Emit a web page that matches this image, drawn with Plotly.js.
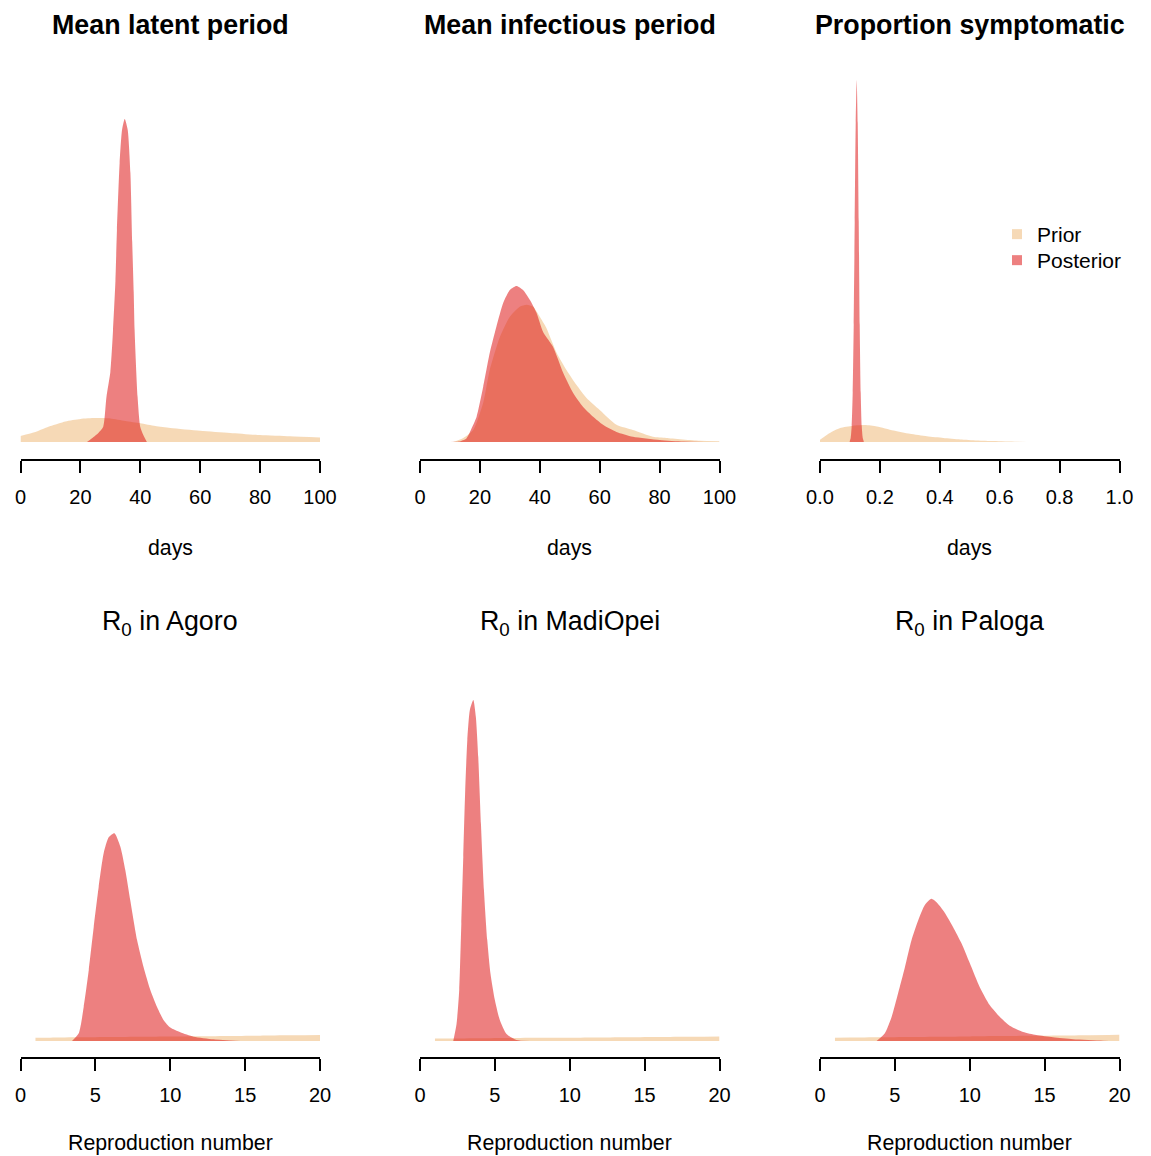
<!DOCTYPE html>
<html>
<head>
<meta charset="utf-8">
<script src="https://cdn.plot.ly/plotly-3.0.1.min.js"></script>
<style>
  html, body { margin: 0; padding: 0; background: #ffffff; }
  #chart { width: 1151px; height: 1156px; }
</style>
</head>
<body>
<div id="chart"></div>
<script>
// ---------- Data (densities) ----------
// Mean latent period (days)
const latentPriorX = [0, 5, 10, 15, 20, 25, 30, 35, 40, 45, 50, 60, 70, 80, 90, 100];
const latentPriorY = [0.0029, 0.0048, 0.0076, 0.0098, 0.0110, 0.0114, 0.0112, 0.0100, 0.0089, 0.0076, 0.0067, 0.0054, 0.0043, 0.0033, 0.0027, 0.0022];
const latentPostX = [22.2, 24.4, 26.0, 27.6, 28.7, 30.0, 30.9, 31.7, 32.2, 33.1, 33.9, 34.8, 35.8, 36.7, 37.3, 37.8, 38.1, 39.1, 40.0, 41.0, 42.2];
const latentPostY = [0, 0.0024, 0.0043, 0.0071, 0.0214, 0.0333, 0.0533, 0.0767, 0.1010, 0.1329, 0.1486, 0.1538, 0.1486, 0.1281, 0.0952, 0.0714, 0.0533, 0.0214, 0.0071, 0.0033, 0];

// Mean infectious period (days)
const infPriorX = [11, 14, 17.8, 21.1, 23.3, 26.7, 30, 33.3, 35.6, 37.8, 40, 42.2, 45.6, 48.9, 52.2, 55.6, 60, 65.6, 71.1, 77.8, 82.2, 93.3, 100];
const infPriorY = [0, 0.0008, 0.0030, 0.0098, 0.0180, 0.0263, 0.0313, 0.0338, 0.0343, 0.0338, 0.0313, 0.0285, 0.0223, 0.0180, 0.0143, 0.0110, 0.0080, 0.0043, 0.0030, 0.0013, 0.0010, 0.0003, 0.0002];
const infPostX = [10, 13, 15.5, 17, 18.9, 21.1, 23.3, 25.5, 27.8, 30, 32.2, 34.4, 36.7, 38.9, 41.1, 44.4, 47.8, 51.1, 54.4, 57.8, 61.1, 65.6, 71.1, 80, 88, 95];
const infPostY = [0, 0.0001, 0.0009, 0.0030, 0.0063, 0.0138, 0.0223, 0.0288, 0.0348, 0.0380, 0.0390, 0.0380, 0.0355, 0.0323, 0.0275, 0.0238, 0.0173, 0.0123, 0.0088, 0.0063, 0.0043, 0.0025, 0.0013, 0.0005, 0.0001, 0];

// Proportion symptomatic
const sympPriorX = [0, 0.033, 0.067, 0.11, 0.15, 0.19, 0.245, 0.30, 0.357, 0.412, 0.468, 0.524, 0.58, 0.658, 0.75];
const sympPriorY = [0.38, 1.5, 2.33, 2.72, 2.83, 2.6, 1.93, 1.38, 0.95, 0.67, 0.43, 0.27, 0.17, 0.05, 0];
const sympPostX = [0.0992, 0.1025, 0.1059, 0.1092, 0.1126, 0.1159, 0.1193, 0.1226, 0.1259, 0.1293, 0.1326, 0.1360, 0.1393, 0.1427, 0.1460];
const sympPostY = [0.13, 0.67, 2.7, 8.2, 19.6, 36.7, 53.2, 60.3, 53.2, 36.7, 19.6, 8.2, 2.7, 0.67, 0.13];

// R0 prior (same prior for the three districts)
const r0PriorX = [1.0, 2, 4, 6, 8, 10, 12, 14, 16, 18, 20];
const r0PriorY = [0.0048, 0.0050, 0.0055, 0.0059, 0.0063, 0.0067, 0.0071, 0.0075, 0.0080, 0.0085, 0.0090];

// R0 posteriors
const agoroPostX = [3.44, 3.89, 4.22, 4.56, 4.89, 5.22, 5.56, 5.89, 6.27, 6.67, 7.0, 7.33, 7.78, 8.22, 8.67, 9.11, 9.56, 10.0, 10.67, 11.56, 12.9, 14.7];
const agoroPostY = [0, 0.0115, 0.0507, 0.106, 0.170, 0.230, 0.281, 0.304, 0.310, 0.290, 0.255, 0.210, 0.151, 0.110, 0.076, 0.051, 0.031, 0.020, 0.013, 0.0064, 0.0025, 0];
const madiPostX = [2.22, 2.44, 2.62, 2.76, 2.89, 3.02, 3.16, 3.33, 3.56, 3.73, 3.89, 4.07, 4.27, 4.49, 4.71, 5.0, 5.33, 5.78, 6.44, 7.33];
const madiPostY = [0, 0.034, 0.102, 0.234, 0.368, 0.502, 0.602, 0.662, 0.682, 0.648, 0.568, 0.434, 0.302, 0.202, 0.134, 0.082, 0.042, 0.014, 0.002, 0];
const palogaPostX = [3.78, 4.33, 4.78, 5.22, 5.67, 6.11, 6.56, 7.0, 7.44, 7.78, 8.33, 8.89, 9.44, 10.0, 10.67, 11.33, 12.0, 12.67, 13.56, 14.44, 15.56, 16.9, 18.9, 20];
const palogaPostY = [0, 0.0112, 0.0348, 0.0696, 0.107, 0.146, 0.175, 0.197, 0.206, 0.201, 0.186, 0.165, 0.142, 0.113, 0.078, 0.052, 0.035, 0.022, 0.013, 0.0087, 0.0054, 0.0025, 0.0004, 0];

// Titles and axis labels
const panelTitles = ["Mean latent period", "Mean infectious period", "Proportion symptomatic",
                     "R<sub>0</sub> in Agoro", "R<sub>0</sub> in MadiOpei", "R<sub>0</sub> in Paloga"];
const xLabels = ["days", "days", "days", "Reproduction number", "Reproduction number", "Reproduction number"];
const daysTicks = [0, 20, 40, 60, 80, 100];
const propTicks = [0, 0.2, 0.4, 0.6, 0.8, 1.0];
const propTickText = ["0.0", "0.2", "0.4", "0.6", "0.8", "1.0"];
const r0Ticks = [0, 5, 10, 15, 20];
const legendNames = ["Prior", "Posterior"];

// ---------- Styling / layout ----------
const W = 1151, H = 1156;
const FONT = "Liberation Sans, Arial, Helvetica, sans-serif";
const priorColor = "rgba(237,180,110,0.5)";
const postColor = "rgba(222,20,20,0.54)";

const panels = [
  {prior: [latentPriorX, latentPriorY], post: [latentPostX, latentPostY], xr: [0, 100], tv: daysTicks, tt: null, pxPerUnit: 2100},
  {prior: [infPriorX, infPriorY], post: [infPostX, infPostY], xr: [0, 100], tv: daysTicks, tt: null, pxPerUnit: 4000},
  {prior: [sympPriorX, sympPriorY], post: [sympPostX, sympPostY], xr: [0, 1], tv: propTicks, tt: propTickText, pxPerUnit: 6},
  {prior: [r0PriorX, r0PriorY], post: [agoroPostX, agoroPostY], xr: [0, 20], tv: r0Ticks, tt: null, pxPerUnit: 670},
  {prior: [r0PriorX, r0PriorY], post: [madiPostX, madiPostY], xr: [0, 20], tv: r0Ticks, tt: null, pxPerUnit: 500},
  {prior: [r0PriorX, r0PriorY], post: [palogaPostX, palogaPostY], xr: [0, 20], tv: r0Ticks, tt: null, pxPerUnit: 690}
];

const colPix = [[20.5, 320], [420, 719.5], [820, 1119.5]];
// row: [plot top px, axis line px, baseline offset px, x-label centre px]
const rowPix = [[60, 459, 17, 548], [660, 1057, 16, 1142.5]];

const legendBase = {
  xanchor: "left", yanchor: "top",
  bgcolor: "rgba(0,0,0,0)", borderwidth: 0,
  font: {family: FONT, size: 21, color: "#000000"},
  itemclick: false, itemdoubleclick: false
};

const traces = [];
const layout = {
  width: W, height: H,
  margin: {l: 0, r: 0, t: 0, b: 0},
  paper_bgcolor: "#ffffff", plot_bgcolor: "rgba(0,0,0,0)",
  font: {family: FONT, color: "#000000", size: 20},
  showlegend: true,
  hovermode: false,
  legend: Object.assign({x: 997 / W, y: 1 - 214 / H}, legendBase),
  legend2: Object.assign({x: 997 / W, y: 1 - 240 / H}, legendBase),
  annotations: []
};

panels.forEach((p, i) => {
  const col = i % 3, row = Math.floor(i / 3);
  const sfx = i === 0 ? "" : String(i + 1);
  const xa = "x" + sfx, ya = "y" + sfx;
  const [top, axisPx, off, labelY] = rowPix[row];
  const areaPx = axisPx - top;
  const k = p.pxPerUnit;

  traces.push({
    x: p.prior[0], y: p.prior[1], xaxis: xa, yaxis: ya,
    type: "scatter", mode: "lines", fill: "tozeroy",
    fillcolor: priorColor, line: {width: 0, color: priorColor, shape: "spline", smoothing: 0.6},
    showlegend: false, hoverinfo: "skip"
  });
  traces.push({
    x: p.post[0], y: p.post[1], xaxis: xa, yaxis: ya,
    type: "scatter", mode: "lines", fill: "tozeroy",
    fillcolor: postColor, line: {width: 0, color: postColor, shape: "spline", smoothing: 0.6},
    showlegend: false, hoverinfo: "skip"
  });

  const xaxis = {
    domain: [colPix[col][0] / W, colPix[col][1] / W],
    anchor: ya, range: p.xr, fixedrange: true,
    showgrid: false, zeroline: false,
    showline: true, linecolor: "#000000", linewidth: 2,
    ticks: "outside", ticklen: 12, tickwidth: 2, tickcolor: "#000000",
    tickmode: "array", tickvals: p.tv,
    tickfont: {family: FONT, size: 20, color: "#000000"},
    ticklabelstandoff: 7
  };
  if (p.tt) xaxis.ticktext = p.tt;
  const yaxis = {
    domain: [1 - axisPx / H, 1 - top / H],
    anchor: xa, range: [-off / k, (areaPx - off) / k],
    visible: false, fixedrange: true, showgrid: false, zeroline: false
  };
  layout["xaxis" + sfx] = xaxis;
  layout["yaxis" + sfx] = yaxis;

  const cx = (colPix[col][0] + colPix[col][1]) / 2;
  // panel title
  layout.annotations.push({
    xref: "paper", yref: "paper",
    x: cx / W, y: 1 - (row === 0 ? 25 : 623) / H,
    xanchor: "center", yanchor: "middle", showarrow: false,
    text: panelTitles[i],
    font: {family: FONT, size: 26.8, color: "#000000", weight: row === 0 ? "bold" : "normal"}
  });
  // x-axis label
  layout.annotations.push({
    xref: "paper", yref: "paper",
    x: cx / W, y: 1 - labelY / H,
    xanchor: "center", yanchor: "middle", showarrow: false,
    text: xLabels[i],
    font: {family: FONT, size: 21.3, color: "#000000"}
  });
});

// legend entries (square keys)
traces.push({
  x: [null], y: [null], xaxis: "x3", yaxis: "y3", type: "scatter", mode: "markers",
  name: legendNames[0], marker: {symbol: "square", size: 10, color: priorColor},
  showlegend: true, legend: "legend"
});
traces.push({
  x: [null], y: [null], xaxis: "x3", yaxis: "y3", type: "scatter", mode: "markers",
  name: legendNames[1], marker: {symbol: "square", size: 10, color: postColor},
  showlegend: true, legend: "legend2"
});

Plotly.newPlot("chart", traces, layout, {staticPlot: true, displayModeBar: false});
</script>
</body>
</html>
